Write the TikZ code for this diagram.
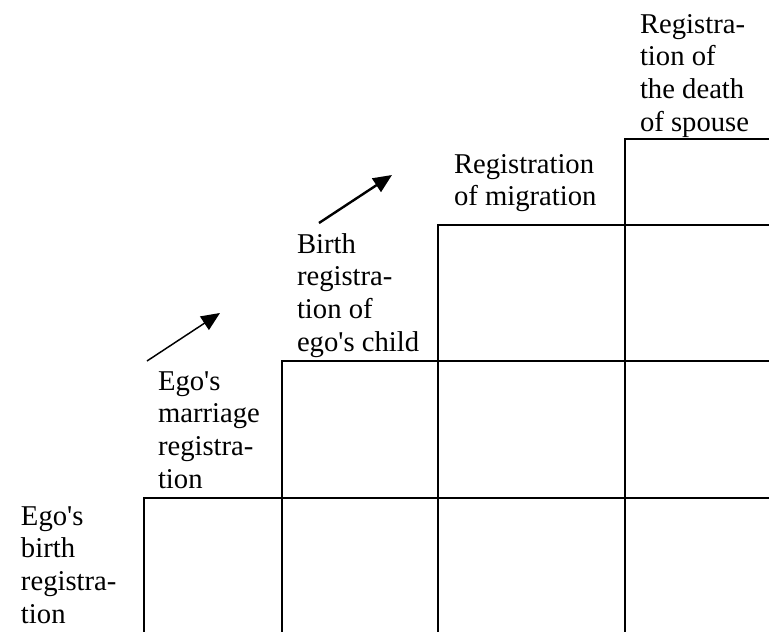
\documentclass[tikz,border=0pt]{standalone}
\usepackage{fontspec}
\setmainfont{Liberation Serif}
\usetikzlibrary{arrows.meta}
\tikzset{
  gridline/.style={line width=1.5pt, line cap=rect},
  lbl/.style={anchor=base west, inner sep=0pt, outer sep=0pt, font=\fontsize{21.5pt}{24.5pt}\selectfont},
  arr/.style={-{Triangle[length=14pt,width=12pt]}},
}
\newcommand{\stack}[1]{\vtop{\baselineskip=24.5pt\halign{##\hfil\cr#1\crcr}}}
\newcommand{\ap}{\textquotesingle}
\begin{document}
\begin{tikzpicture}[x=0.75pt,y=-0.75pt]
\useasboundingbox (0,0) rectangle (769,632);
% staircase grid
\draw[gridline] (625,139) -- (769,139);
\draw[gridline] (438,225) -- (769,225);
\draw[gridline] (282,361) -- (769,361);
\draw[gridline] (144,498) -- (769,498);
\draw[gridline] (144,498) -- (144,632);
\draw[gridline] (282,361) -- (282,632);
\draw[gridline] (438,225) -- (438,632);
\draw[gridline] (625,139) -- (625,632);
% labels
\node[lbl] (birth) at (21,525) {\stack{Ego\ap s\cr birth\cr registra-\cr tion}};
\node[lbl] (marriage) at (158,390) {\stack{Ego\ap s\cr marriage\cr registra-\cr tion}};
\node[lbl] (child) at (297,253) {\stack{Birth\cr registra-\cr tion of\cr ego\ap s child}};
\node[lbl] (migration) at (454,173) {\stack{Registration\cr of migration}};
\node[lbl] (death) at (640,33) {\stack{Registra-\cr tion of\cr the death\cr of spouse}};
% arrows
\coordinate (a1s) at (147,361);
\coordinate (a1e) at (220,313);
\coordinate (a2s) at (319,223);
\coordinate (a2e) at (392,175);
\draw[arr, line width=1.1pt] (a1s) -- (a1e);
\draw[arr, line width=1.8pt] (a2s) -- (a2e);
\end{tikzpicture}
\end{document}
